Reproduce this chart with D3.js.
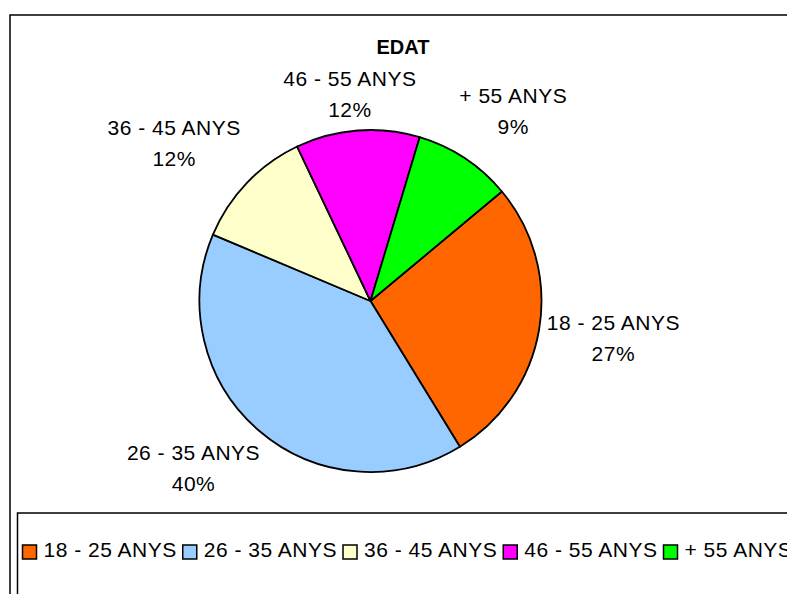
<!DOCTYPE html>
<html>
<head>
<meta charset="utf-8">
<script src="https://cdn.jsdelivr.net/npm/d3@7"></script>
<style>
  body { margin: 0; background: #fff; }
  text { font-family: "Liberation Sans", Arial, sans-serif; fill: #000; }
</style>
</head>
<body>
<script>
// data
var categories = ['18 - 25 ANYS', '26 - 35 ANYS', '36 - 45 ANYS', '46 - 55 ANYS', '+ 55 ANYS'];
var values = [27.3, 40.1, 11.6, 11.7, 9.3];
var colors = ['#FF6600', '#99CCFF', '#FFFFCC', '#FF00FF', '#00FF00'];
var title = 'EDAT';

var width = 787;
var height = 594;
var cx = 370.5, cy = 301, radius = 171;
var startDeg = 50.2;   // rotation of first slice
var labelGap = 34;
var lineStep = 31;
var capH = 15;
var fontSize = '21px';
var spacing = '0.5px';
// labels are kept inside this box (plot area)
var bounds = { top: 71, bottom: 491, left: 20, right: 680 };

var svg = d3.select('body').append('svg')
    .attr('width', width)
    .attr('height', height);

// chart frame (runs off the right and bottom edges)
svg.append('rect')
    .attr('x', 10).attr('y', 15)
    .attr('width', 800).attr('height', 620)
    .attr('fill', 'none').attr('stroke', '#000').attr('stroke-width', 1.5);

svg.append('text')
    .attr('x', 403).attr('y', 54)
    .attr('text-anchor', 'middle')
    .attr('font-size', '20px').attr('font-weight', 'bold')
    .text(title);

var total = d3.sum(values);
var pct = d3.format('.0%');

var pie = d3.pie().sort(null)
    .startAngle(startDeg * Math.PI / 180)
    .endAngle(startDeg * Math.PI / 180 + 2 * Math.PI);
var arcs = pie(values);
var arc = d3.arc().innerRadius(0).outerRadius(radius);

var g = svg.append('g').attr('transform', 'translate(' + cx + ',' + cy + ')');

g.selectAll('path')
    .data(arcs)
    .enter()
    .append('path')
    .attr('d', arc)
    .attr('fill', function (d, i) { return colors[i]; })
    .attr('stroke', '#000')
    .attr('stroke-width', 1.8)
    .attr('stroke-linejoin', 'round');

// data labels: two lines, pushed outside the rim along mid angle
arcs.forEach(function (d, i) {
    var a = (d.startAngle + d.endAngle) / 2;
    var lbl = svg.append('text')
        .attr('text-anchor', 'middle')
        .attr('font-size', fontSize)
        .attr('letter-spacing', spacing);
    var t1 = lbl.append('tspan').text(categories[i]);
    var t2 = lbl.append('tspan').text(pct(values[i] / total));

    var w = t1.node().getComputedTextLength();
    var h = capH + lineStep;
    var bx = cx + Math.sin(a) * (radius + labelGap + w / 2);
    var by = cy - Math.cos(a) * (radius + labelGap + h / 2);
    // clamp into plot area
    bx = Math.min(bx, bounds.right - w / 2);
    bx = Math.max(bx, bounds.left + w / 2);
    by = Math.max(by, bounds.top + h / 2);
    by = Math.min(by, bounds.bottom - h / 2);

    var top = by - h / 2;
    t1.attr('x', bx).attr('y', top + capH);
    t2.attr('x', bx).attr('y', top + capH + lineStep);
});

// legend
svg.append('rect')
    .attr('x', 17.5).attr('y', 513)
    .attr('width', 800).attr('height', 120)
    .attr('fill', 'none').attr('stroke', '#000').attr('stroke-width', 1.5);

var lx = 22.5;
var ly = 557;
categories.forEach(function (c, i) {
    svg.append('rect')
        .attr('x', lx).attr('y', ly - 12)
        .attr('width', 14).attr('height', 14)
        .attr('fill', colors[i])
        .attr('stroke', '#000').attr('stroke-width', 1.5);
    var t = svg.append('text')
        .attr('x', lx + 21).attr('y', ly)
        .attr('font-size', fontSize)
        .attr('letter-spacing', spacing)
        .text(c);
    lx += 21 + t.node().getComputedTextLength() + 6;
});
</script>
</body>
</html>
